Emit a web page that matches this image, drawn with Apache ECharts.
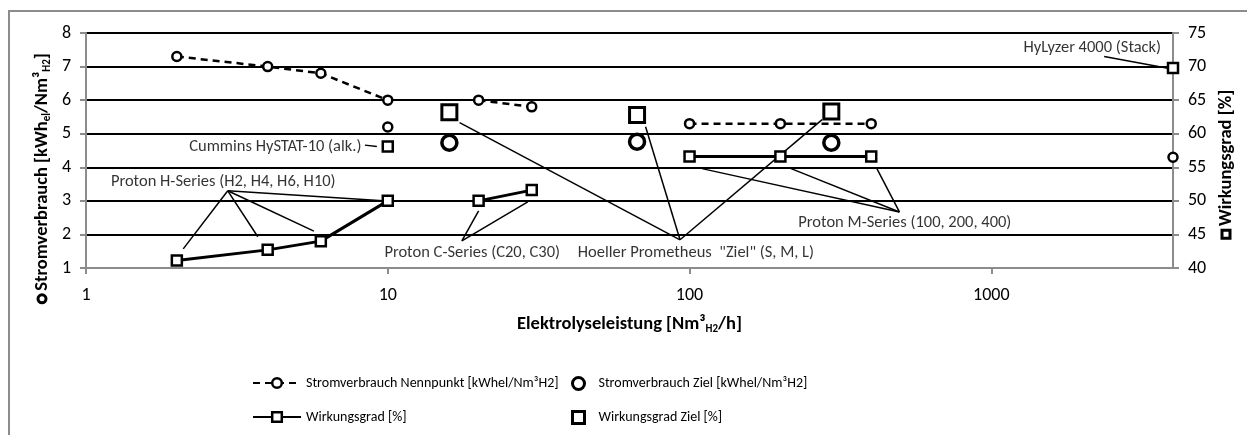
<!DOCTYPE html>
<html>
<head>
<meta charset="utf-8">
<script src="https://cdn.jsdelivr.net/npm/echarts@6/dist/echarts.min.js"></script>
<style>
  html, body { margin: 0; padding: 0; background: #fff; }
  #chart { width: 1247px; height: 435px; }
</style>
</head>
<body>
<div id="chart"></div>
<script>
// Elektrolyseleistung [Nm3/h] und Stromverbrauch am Nennpunkt
const nennX = [2, 4, 6, 10, 10, 20, 30, 100, 200, 400, 4000]
const nennY = [7.3, 7.0, 6.8, 6.0, 5.2, 6.0, 5.8, 5.3, 5.3, 5.3, 4.3]
const nennBreaks = [3, 4, 6, 9] // nach diesen Punkten ist die Linie unterbrochen

// Wirkungsgrad [%]
const wgX = [2, 4, 6, 10, 10, 20, 30, 100, 200, 400, 4000]
const wgY = [41.1, 42.7, 44.0, 50.0, 58.1, 50.0, 51.6, 56.6, 56.6, 56.6, 69.8]
const wgBreaks = [3, 4, 6, 9]

// Zielwerte Hoeller Prometheus (S, M, L)
const zielX = [16, 67, 295]
const zielStrom = [4.73, 4.76, 4.73]
const zielWg = [63.2, 62.8, 63.3]

// Beschriftungen (Lage in Achsenwerten: Leistung / Stromverbrauch)
const noteTexts = ['Cummins HySTAT-10 (alk.)', 'Proton H-Series (H2, H4, H6, H10)', 'Proton C-Series (C20, C30)',
  'Hoeller Prometheus  "Ziel" (S, M, L)', 'Proton M-Series (100, 200, 400)', 'HyLyzer 4000 (Stack)']
const noteX = [4.24, 2.85, 19.05, 105, 517, 2160]
const noteY = [4.61, 3.57, 1.45, 1.45, 2.34, 7.57]

// Hinweislinien von / nach
const leaderFrom = [[8.4, 4.66], [2.95, 3.3], [2.95, 3.3], [2.95, 3.3], [2.95, 3.3], [17.6, 1.81], [17.6, 1.81],
  [93, 1.84], [93, 1.84], [93, 1.84], [496, 2.67], [496, 2.67], [496, 2.67], [2366, 7.3]]
const leaderTo = [[9.2, 4.62], [2.1, 1.57], [3.71, 1.93], [5.69, 2.1], [9.63, 3.0], [20.0, 2.7], [29.1, 2.97],
  [17.3, 5.33], [71.5, 5.21], [275, 5.42], [110, 3.96], [213, 3.99], [416, 3.99], [3885, 6.94]]

const names = ['Stromverbrauch Nennpunkt [kWhel/Nm³H2]', 'Stromverbrauch Ziel [kWhel/Nm³H2]',
  'Wirkungsgrad [%]', 'Wirkungsgrad Ziel [%]']

const FONT = 'Carlito, Calibri, Lato, sans-serif'
const TXT = '#000'

function withBreaks (xs, ys, breaks) {
  const out = []
  xs.forEach((x, i) => {
    out.push([x, ys[i]])
    if (breaks.includes(i)) out.push([x, null])
  })
  return out
}

const titleRich = {
  b: { fontSize: 18.5, fontWeight: 'bold', fontFamily: FONT, color: TXT },
  s: { fontSize: 11, fontWeight: 'bold', fontFamily: FONT, color: TXT, padding: [10, 0, 0, 0] },
  c: { width: 8, height: 8, borderColor: '#000', borderWidth: 3, borderRadius: 7 },
  q: { width: 8, height: 8, borderColor: '#000', borderWidth: 3 }
}

const legendText = { fontSize: 14, fontFamily: FONT, color: TXT }

const chart = echarts.init(document.getElementById('chart'))

const option = {
  animation: false,
  backgroundColor: '#fff',
  textStyle: { fontFamily: FONT, color: TXT },
  grid: { left: 86, right: 74, top: 33, bottom: 167 },
  graphic: [
    {
      type: 'rect',
      shape: { x: 9, y: 11, width: 1400, height: 600 },
      style: { fill: 'none', stroke: '#8c8c8c', lineWidth: 2 },
      silent: true
    },
    {
      type: 'text',
      x: 42,
      y: 178,
      rotation: Math.PI / 2,
      style: {
        text: '{c| }{b| Stromverbrauch [kWh}{s|el}{b|/Nm³}{s|H2}{b|]}',
        rich: titleRich,
        align: 'center',
        verticalAlign: 'middle'
      }
    },
    {
      type: 'text',
      x: 1226,
      y: 164,
      rotation: Math.PI / 2,
      style: {
        text: '{q| }{b| Wirkungsgrad [%]}',
        rich: titleRich,
        align: 'center',
        verticalAlign: 'middle'
      }
    }
  ],
  legend: [
    { data: [names[0]], left: 247, top: 371, itemWidth: 48, itemHeight: 12, itemStyle: { borderWidth: 2.5 }, textStyle: legendText },
    { data: [names[1]], left: 566, top: 371, itemWidth: 12, itemHeight: 12, itemStyle: { borderWidth: 3 }, textStyle: { ...legendText, padding: [0, 0, 0, 9] } },
    { data: [names[2]], left: 247, top: 405, itemWidth: 48, itemHeight: 12, itemStyle: { borderWidth: 2.5 }, textStyle: legendText },
    { data: [names[3]], left: 566, top: 405, itemWidth: 12, itemHeight: 12, itemStyle: { borderWidth: 3 }, textStyle: { ...legendText, padding: [0, 0, 0, 9] } }
  ],
  xAxis: {
    type: 'log',
    logBase: 10,
    min: 1,
    max: 4000,
    interval: 1,
    name: '{b|Elektrolyseleistung [Nm³}{s|H2}{b|/h]}',
    nameLocation: 'middle',
    nameGap: 46,
    nameTextStyle: { rich: titleRich },
    axisLine: { lineStyle: { color: '#8c8c8c', width: 2 } },
    axisTick: { show: true, length: 6, lineStyle: { color: '#8c8c8c', width: 2 } },
    axisLabel: {
      fontSize: 18,
      color: TXT,
      margin: 18,
      showMaxLabel: false,
      formatter: (v) => String(Math.round(v))
    },
    splitLine: { show: false }
  },
  yAxis: [
    {
      type: 'value',
      min: 1,
      max: 8,
      interval: 1,
      axisLine: { show: true, lineStyle: { color: '#8c8c8c', width: 2 } },
      axisTick: { show: true, length: 6, lineStyle: { color: '#8c8c8c', width: 2 } },
      axisLabel: { fontSize: 18, color: TXT, margin: 15 },
      splitLine: { show: true, showMinLine: false, lineStyle: { color: '#000', width: 2 } }
    },
    {
      type: 'value',
      position: 'right',
      min: 40,
      max: 75,
      interval: 5,
      axisLine: { show: true, lineStyle: { color: '#8c8c8c', width: 2 } },
      axisTick: { show: true, length: 6, lineStyle: { color: '#8c8c8c', width: 2 } },
      axisLabel: { fontSize: 18, color: TXT, margin: 15 },
      splitLine: { show: false }
    }
  ],
  series: [
    {
      name: 'leader',
      type: 'lines',
      coordinateSystem: 'cartesian2d',
      xAxisIndex: 0,
      yAxisIndex: 0,
      silent: true,
      z: 1,
      lineStyle: { color: '#000', width: 1.5, opacity: 1, curveness: 0 },
      data: leaderFrom.map((p, i) => ({ coords: [p, leaderTo[i]] }))
    },
    {
      name: 'notes',
      type: 'scatter',
      xAxisIndex: 0,
      yAxisIndex: 0,
      symbolSize: 0,
      silent: true,
      z: 1,
      label: {
        show: true,
        position: 'inside',
        formatter: '{b}',
        fontSize: 16.5,
        fontFamily: FONT,
        color: TXT
      },
      data: noteTexts.map((t, i) => ({ name: t, value: [noteX[i], noteY[i]] }))
    },
    {
      name: names[0],
      type: 'line',
      yAxisIndex: 0,
      z: 3,
      symbol: 'circle',
      symbolSize: 9,
      connectNulls: false,
      itemStyle: { color: '#fff', borderColor: '#000', borderWidth: 2.5 },
      lineStyle: { color: '#000', width: 2.5, type: [7, 5] },
      data: withBreaks(nennX, nennY, nennBreaks)
    },
    {
      name: names[1],
      type: 'scatter',
      yAxisIndex: 0,
      z: 3,
      symbol: 'circle',
      symbolSize: 15,
      itemStyle: { color: '#fff', borderColor: '#000', borderWidth: 3.5, opacity: 1 },
      data: zielX.map((x, i) => [x, zielStrom[i]])
    },
    {
      name: names[2],
      type: 'line',
      yAxisIndex: 1,
      z: 3,
      symbol: 'rect',
      symbolSize: 10,
      connectNulls: false,
      itemStyle: { color: '#fff', borderColor: '#000', borderWidth: 2.5 },
      lineStyle: { color: '#000', width: 3 },
      data: withBreaks(wgX, wgY, wgBreaks)
    },
    {
      name: names[3],
      type: 'scatter',
      yAxisIndex: 1,
      z: 3,
      symbol: 'rect',
      symbolSize: 15,
      itemStyle: { color: '#fff', borderColor: '#000', borderWidth: 3, opacity: 1 },
      data: zielX.map((x, i) => [x, zielWg[i]])
    }
  ]
}

chart.setOption(option)
</script>
</body>
</html>
